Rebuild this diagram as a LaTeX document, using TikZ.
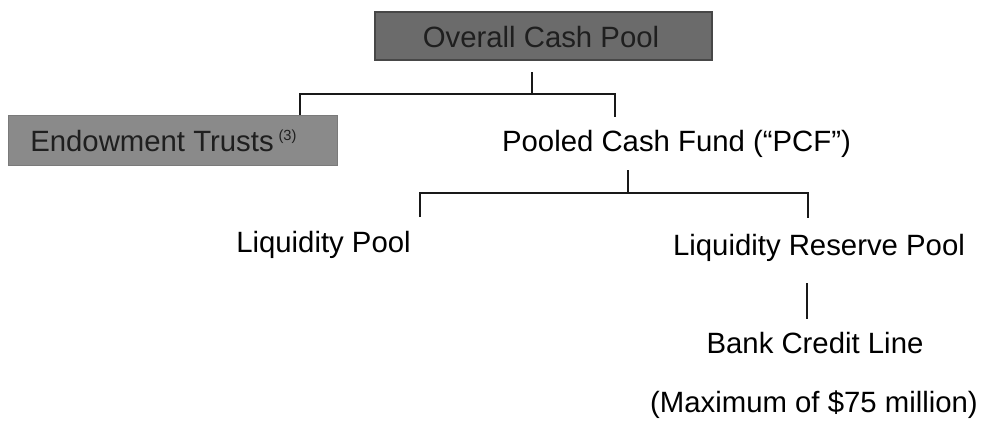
\documentclass[tikz,border=0pt]{standalone}
\usepackage{fontspec}
\setmainfont{Liberation Sans}
\begin{document}
\begin{tikzpicture}[x=0.75pt,y=-0.75pt,
  font=\fontsize{22}{26}\selectfont,
  lbl/.style={inner sep=0pt, anchor=base, text=black},
  boxlbl/.style={inner sep=0pt, anchor=base, text=black!88},
  conn/.style={line width=1.4pt, black!90},
  darkbox/.style={draw=black!72, line width=0.8pt, fill=black!58, inner sep=0pt},
  midbox/.style={draw=black!52, line width=0.6pt, fill=black!46, inner sep=0pt}]
\useasboundingbox (0,0) rectangle (982,425);
% boxes
\node[darkbox, minimum width=252.75pt, minimum height=36pt] (ocpbox) at (543.5,36) {};
\node[boxlbl] (ocp) at (541,47) {Overall Cash Pool};
\node[midbox, minimum width=246.75pt, minimum height=37.5pt] (etbox) at (172.5,140) {};
\node[boxlbl, anchor=base west] (et) at (30,151) {Endowment Trusts\,\raisebox{8pt}{\fontsize{11}{12}\selectfont(3)}};
% plain labels
\node[lbl] (pcf) at (676.5,151) {Pooled Cash Fund (“PCF”)};
\node[lbl] (lp) at (323.5,252) {Liquidity Pool};
\node[lbl] (lrp) at (819,255) {Liquidity Reserve Pool};
\node[lbl] (bcl) at (815,353) {Bank Credit Line};
\node[lbl] (max) at (814,412) {(Maximum of \$75 million)};
% connector junctions
\coordinate (o1) at (532,72);
\coordinate (o2) at (532,94);
\coordinate (oL) at (300,94);
\coordinate (oR) at (615,94);
\coordinate (p1) at (628,170);
\coordinate (p2) at (628,193);
\coordinate (pL) at (420,193);
\coordinate (pR) at (808,193);
\coordinate (r1) at (807,283);
\coordinate (r2) at (807,319);
% connectors
\draw[conn] (o1) -- (o2);
\draw[conn] (etbox.north -| oL) -- (oL) -- (oR) -- ++(0,23);
\draw[conn] (p1) -- (p2);
\draw[conn] (pL) ++(0,24) -- (pL) -- (pR) -- ++(0,25);
\draw[conn] (r1) -- (r2);
\end{tikzpicture}
\end{document}
